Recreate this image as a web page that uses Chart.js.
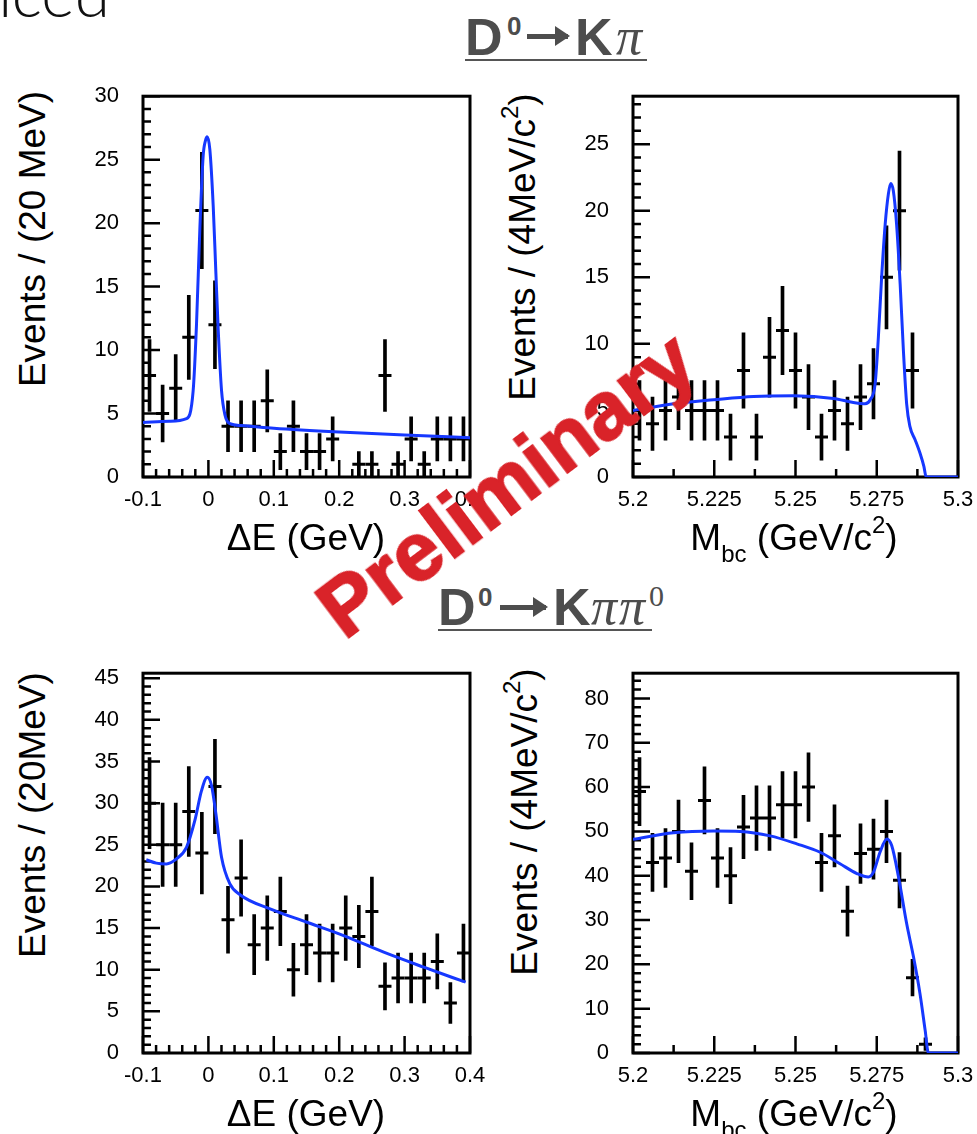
<!DOCTYPE html>
<html>
<head>
<meta charset="utf-8">
<script src="https://cdn.jsdelivr.net/npm/chart.js@4.4.1/dist/chart.umd.min.js"></script>
<style>
  body { margin: 0; background: #fff; width: 977px; height: 1134px; overflow: hidden; position: relative;
         font-family: 'Liberation Sans', Arial, sans-serif; }
  canvas { position: absolute; }
  .lbl { position: absolute; white-space: nowrap; line-height: 1; color: #000; font-size: 37px;
         transform: translate(-50%, -50%); }
  .ylbl { transform: translate(-50%, -50%) rotate(-90deg); }
  .lbl sup { font-size: 24px; line-height: 0; position: relative; top: -4px; }
  .lbl sub { font-size: 24px; line-height: 0; position: relative; top: 4px; }
  .decay { position: absolute; height: 44px; border-bottom: 2px solid #555; color: #4d4d4d; }
  .decay span { position: absolute; top: 0; white-space: nowrap; line-height: 44px;
                font-weight: bold; font-size: 52px; }
  .decay .s0 { font-size: 26px; }
  .decay .pi { font-family: 'Liberation Serif', serif; font-style: italic; font-weight: normal; }
  .decay .s0s { font-family: 'Liberation Serif', serif; font-weight: normal; font-size: 30px; }
  .decay .arr { height: 5px; background: #4d4d4d; }
  .decay .arr::after { content: ''; position: absolute; right: -2px; top: -8px; border-left: 15px solid #4d4d4d;
                       border-top: 10.5px solid transparent; border-bottom: 10.5px solid transparent; }
  .corner { position: absolute; right: 867px; top: -39px; font-family: Lato, 'Open Sans', sans-serif;
            font-weight: 300; font-size: 64px; line-height: 64px; color: #111; }
  .prelim { position: absolute; left: 506px; top: 484px; font-weight: bold; font-size: 82px; line-height: 1;
            color: #d92329; -webkit-text-stroke: 2px #d92329; white-space: nowrap;
            transform: translate(-50%, -50%) rotate(-37deg); }
</style>
</head>
<body>
<div class="corner">nced</div>

<canvas id="kpiDe"></canvas>
<canvas id="kpiMbc"></canvas>
<canvas id="kpipi0De"></canvas>
<canvas id="kpipi0Mbc"></canvas>

<div class="decay" style="left:465px;top:15px;width:182px">
  <span style="left:0">D</span><span class="s0" style="left:42px;top:-11px">0</span>
  <span class="arr" style="left:62px;top:19px;width:41px"></span>
  <span style="left:110px">K</span><span class="pi" style="left:151px">π</span>
</div>
<div class="decay" style="left:438px;top:585px;width:214px">
  <span style="left:0">D</span><span class="s0" style="left:40px;top:-10px">0</span>
  <span class="arr" style="left:62px;top:20px;width:46px"></span>
  <span style="left:115px">K</span><span class="pi" style="left:153px">π</span><span class="pi" style="left:181px">π</span>
  <span class="s0s" style="left:211px;top:-11px">0</span>
</div>

<div class="lbl ylbl" style="left:32px;top:239px">Events / (20 MeV)</div>
<div class="lbl" style="left:306px;top:537px">ΔE (GeV)</div>
<div class="lbl ylbl" style="left:522px;top:247px">Events / (4MeV/c<sup>2</sup>)</div>
<div class="lbl" style="left:794px;top:537px">M<sub>bc</sub> (GeV/c<sup>2</sup>)</div>

<div class="lbl ylbl" style="left:32px;top:815px">Events / (20MeV)</div>
<div class="lbl" style="left:306px;top:1113px">ΔE (GeV)</div>
<div class="lbl ylbl" style="left:524px;top:822px">Events / (4MeV/c<sup>2</sup>)</div>
<div class="lbl" style="left:794px;top:1113px">M<sub>bc</sub> (GeV/c<sup>2</sup>)</div>

<div class="prelim">Preliminary</div>

<script>
// bin centres (20 MeV bins in dE, 4 MeV bins in Mbc)
const deBins = [-0.09, -0.07, -0.05, -0.03, -0.01, 0.01, 0.03, 0.05, 0.07, 0.09, 0.11, 0.13, 0.15,
                0.17, 0.19, 0.21, 0.23, 0.25, 0.27, 0.29, 0.31, 0.33, 0.35, 0.37, 0.39];
const mbcBins = [5.202, 5.206, 5.210, 5.214, 5.218, 5.222, 5.226, 5.230, 5.234, 5.238, 5.242, 5.246, 5.250,
                 5.254, 5.258, 5.262, 5.266, 5.270, 5.274, 5.278, 5.282, 5.286, 5.290, 5.294, 5.298];

// D0 -> K pi
const kpiDeCounts = [8, 5, 7, 11, 21, 12, 4, 4, 4, 6, 2, 4, 2, 2, 3, 0, 1, 1, 8, 1, 3, 1, 3, 3, 3];
const kpiMbcCounts = [5, 4, 5, 6, 5, 5, 5, 3, 8, 3, 9, 11, 8, 6, 3, 5, 4, 6, 7, 15, 20, 8, 0, 0, 0];
const kpiDeFitX = [-0.1, -0.06, -0.0335, -0.0233, -0.0182, -0.0131, -0.008, -0.0045, -0.0018, 0.0022, 0.0074,
                   0.0115, 0.015, 0.0201, 0.0253, 0.0329, 0.05, 0.1, 0.2, 0.3, 0.4];
const kpiDeFitY = [4.3, 4.4, 4.6, 6.8, 12, 19.5, 25.3, 26.5, 26.8, 25.8, 21.3,
                   16, 11.6, 6.8, 4.9, 4.2, 4.05, 3.85, 3.55, 3.3, 3.1];
const kpiMbcFitX = [5.2, 5.2125, 5.2248, 5.2371, 5.2494, 5.2617, 5.2678, 5.2714, 5.273, 5.2745, 5.2755, 5.2765,
                    5.2776, 5.2786, 5.2793, 5.2801, 5.2811, 5.2822, 5.2832, 5.2842, 5.2852, 5.2868, 5.2883,
                    5.2895, 5.2902, 5.3];
const kpiMbcFitY = [5.0, 5.5, 5.8, 6.05, 6.1, 5.9, 5.6, 5.5, 5.8, 7, 10.5, 15,
                    19, 21.3, 22.05, 21.5, 19, 14.5, 9.5, 5.5, 3.8, 2.8, 1.8,
                    0.8, 0, 0];

// D0 -> K pi pi0
const kpipi0DeCounts = [30, 25, 25, 29, 24, 32, 16, 21, 13, 15, 17, 10, 13, 12, 12, 15, 14, 17, 8, 9, 9, 9, 11, 6, 12];
const kpipi0MbcCounts = [59, 43, 44, 50, 41, 57, 44, 40, 51, 53, 53, 56, 56, 60, 43, 49, 32, 45, 46, 50, 39, 17, 2, 0, 0];
const kpipi0DeFitX = [-0.095, -0.0796, -0.0642, -0.0489, -0.0335, -0.0208, -0.0105, -0.0018, 0.0048, 0.0115,
                      0.0201, 0.0329, 0.0483, 0.0943, 0.1505, 0.2067, 0.2681, 0.3294, 0.3933];
const kpipi0DeFitY = [23.2, 22.8, 22.7, 23.3, 24.7, 27.9, 31.5, 33.1, 32.1, 28.7,
                      23.5, 20.3, 19.0, 17.3, 15.7, 14.1, 12.1, 10.3, 8.5];
const kpipi0MbcFitX = [5.2, 5.2125, 5.2248, 5.233, 5.2422, 5.2504, 5.2576, 5.2637, 5.2689, 5.2724, 5.274,
                       5.276, 5.2781, 5.2796, 5.2817, 5.2842, 5.2863, 5.2883, 5.2899, 5.2909, 5.3];
const kpipi0MbcFitY = [48.2, 49.7, 50.1, 50.0, 49.0, 47.2, 45.3, 42.7, 40.5, 39.7, 40.8,
                       45.3, 48.3, 46.8, 39.7, 29.2, 21.7, 13.4, 5.1, 0, 0];

// axis tick labels
const deTickVals = [-0.1, 0, 0.1, 0.2, 0.3, 0.4];
const deTickLabels = ['-0.1', '0', '0.1', '0.2', '0.3', '0.4'];
const mbcTickVals = [5.2, 5.225, 5.25, 5.275, 5.3];
const mbcTickLabels = ['5.2', '5.225', '5.25', '5.275', '5.3'];

Chart.defaults.font.family = "'Liberation Sans', Arial, sans-serif";
Chart.defaults.font.size = 22;
Chart.defaults.color = '#000';

const fitBlue = '#1638ff';
const PAD_TOP = 16;

function tickValues(min, max, step) {
    const out = [];
    for (let k = Math.ceil(min / step - 1e-9); k <= Math.floor(max / step + 1e-9); k++) out.push(k * step);
    return out;
}

function isMajor(v, major) {
    const r = v / major;
    return Math.abs(r - Math.round(r)) < 1e-6;
}

// ROOT style frame with ticks pointing inwards
const rootFrame = {
    id: 'rootFrame',
    beforeDatasetsDraw(chart, args, opts) {
        const {ctx, chartArea: a, scales: {x, y}} = chart;
        ctx.save();
        ctx.strokeStyle = '#000';
        ctx.lineWidth = 2.5;
        ctx.beginPath();
        tickValues(x.min, x.max, opts.xMinor).forEach(v => {
            const px = x.getPixelForValue(v);
            ctx.moveTo(px, a.bottom);
            ctx.lineTo(px, a.bottom - (isMajor(v, opts.xMajor) ? 17 : 8));
        });
        tickValues(y.min, y.max, opts.yMinor).forEach(v => {
            const py = y.getPixelForValue(v);
            ctx.moveTo(a.left, py);
            ctx.lineTo(a.left + (isMajor(v, opts.yMajor) ? 17 : 8), py);
        });
        ctx.stroke();
        ctx.lineWidth = 3;
        ctx.strokeRect(a.left, a.top, a.right - a.left, a.bottom - a.top);
        ctx.restore();
    }
};

function makePanel(id, bins, counts, fitX, fitY, opt) {
    const pts = bins.map((x, i) => ({x: x, y: counts[i]})).filter(p => p.y > 0);
    const errs = pts.map(p => ({x: p.x, y: [p.y - Math.sqrt(p.y), p.y + Math.sqrt(p.y)]}));
    const fit = fitX.map((x, i) => ({x: x, y: fitY[i]}));

    const canvas = document.getElementById(id);
    canvas.width = opt.w;
    canvas.height = opt.h;
    canvas.style.left = opt.left + 'px';
    canvas.style.top = opt.top + 'px';

    const chart = new Chart(canvas, {
        type: 'scatter',
        data: {
            datasets: [
                {
                    type: 'line', data: fit, borderColor: fitBlue, borderWidth: 3,
                    pointRadius: 0, cubicInterpolationMode: 'monotone', order: 0
                },
                {
                    type: 'scatter', data: pts, pointStyle: 'line', pointRadius: 6.5, pointHoverRadius: 6.5,
                    pointBorderColor: '#000', pointBorderWidth: 3, order: 1
                },
                {
                    type: 'bar', data: errs, backgroundColor: '#000', borderWidth: 0,
                    barThickness: 3, grouped: false, order: 2
                }
            ]
        },
        options: {
            responsive: false,
            maintainAspectRatio: false,
            animation: false,
            events: [],
            layout: {padding: {top: PAD_TOP, right: opt.padRight, bottom: 0, left: 0}},
            plugins: {
                legend: {display: false},
                tooltip: {enabled: false},
                rootFrame: {xMinor: opt.xMinor, xMajor: opt.xMajor, yMinor: opt.yMinor, yMajor: opt.yMajor}
            },
            scales: {
                x: {
                    type: 'linear', min: opt.xMin, max: opt.xMax, offset: false,
                    grid: {display: false, offset: false}, border: {display: false},
                    afterBuildTicks: s => { s.ticks = opt.xTicks.map(v => ({value: v})); },
                    afterFit: s => { s.height = opt.xAxisH; },
                    ticks: {callback: (v, i) => opt.xLabels[i], padding: 2, maxRotation: 0, autoSkip: false}
                },
                y: {
                    type: 'linear', min: 0, max: opt.yMax,
                    grid: {display: false}, border: {display: false},
                    afterFit: s => { s.width = 73; },
                    ticks: {stepSize: opt.yStep, includeBounds: false, padding: 16}
                }
            }
        },
        plugins: [rootFrame]
    });

    // the layout keeps some extra room above the plot; grow the canvas upwards to absorb it
    const dy = Math.round(chart.chartArea.top - PAD_TOP);
    if (dy !== 0) {
        canvas.style.top = (opt.top - dy) + 'px';
        chart.resize(opt.w, opt.h + dy);
    }
    return chart;
}

makePanel('kpiDe', deBins, kpiDeCounts, kpiDeFitX, kpiDeFitY, {
    left: 70, top: 80, w: 420, h: 440,
    xMin: -0.1, xMax: 0.4, xTicks: deTickVals, xLabels: deTickLabels, xMinor: 0.02, xMajor: 0.1,
    yMax: 30, yStep: 5, yMinor: 1, yMajor: 5, padRight: 20, xAxisH: 43
});
makePanel('kpiMbc', mbcBins, kpiMbcCounts, kpiMbcFitX, kpiMbcFitY, {
    left: 560, top: 80, w: 417, h: 440,
    xMin: 5.2, xMax: 5.3, xTicks: mbcTickVals, xLabels: mbcTickLabels, xMinor: 0.0125, xMajor: 0.025,
    yMax: 28.6, yStep: 5, yMinor: 1, yMajor: 5, padRight: 19, xAxisH: 43
});
makePanel('kpipi0De', deBins, kpipi0DeCounts, kpipi0DeFitX, kpipi0DeFitY, {
    left: 70, top: 657, w: 420, h: 440,
    xMin: -0.1, xMax: 0.4, xTicks: deTickVals, xLabels: deTickLabels, xMinor: 0.02, xMajor: 0.1,
    yMax: 45.6, yStep: 5, yMinor: 1, yMajor: 5, padRight: 20, xAxisH: 44
});
makePanel('kpipi0Mbc', mbcBins, kpipi0MbcCounts, kpipi0MbcFitX, kpipi0MbcFitY, {
    left: 560, top: 657, w: 417, h: 440,
    xMin: 5.2, xMax: 5.3, xTicks: mbcTickVals, xLabels: mbcTickLabels, xMinor: 0.0125, xMajor: 0.025,
    yMax: 85.7, yStep: 10, yMinor: 2, yMajor: 10, padRight: 19, xAxisH: 44
});
</script>
</body>
</html>
